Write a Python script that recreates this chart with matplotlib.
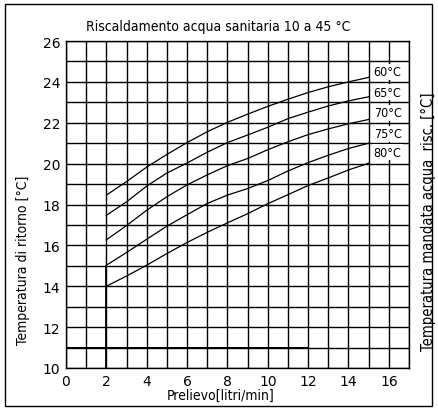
import matplotlib.pyplot as plt
from matplotlib.patches import Rectangle

# flow rate [l/min]
flow = [2, 3, 4, 5, 6, 7, 8, 9, 10, 11, 12, 13, 14, 15]

# return temperature per supply temperature
t60 = [18.46, 19.12, 19.83, 20.45, 21.03, 21.56, 22.02, 22.42, 22.8, 23.15, 23.48, 23.76, 24.0, 24.22]
t65 = [17.47, 18.13, 18.9, 19.54, 20.03, 20.56, 21.03, 21.4, 21.78, 22.2, 22.52, 22.82, 23.07, 23.27]
t70 = [16.27, 16.97, 17.72, 18.38, 18.96, 19.45, 19.9, 20.25, 20.68, 21.07, 21.42, 21.7, 21.95, 22.16]
t75 = [15.03, 15.65, 16.3, 16.94, 17.5, 18.05, 18.46, 18.78, 19.17, 19.64, 20.05, 20.41, 20.74, 21.0]
t80 = [14.0, 14.5, 15.03, 15.6, 16.14, 16.64, 17.1, 17.55, 18.04, 18.48, 18.93, 19.3, 19.69, 20.02]

series = [t60, t65, t70, t75, t80]
labels = ["60°C", "65°C", "70°C", "75°C", "80°C"]
label_y = [24.5, 23.5, 22.5, 21.45, 20.55]

W, H = 438, 410


def main():
    plt.rcParams["font.family"] = ["DejaVu Sans"]
    fig = plt.figure(figsize=(W / 100, H / 100), dpi=100)
    ax = fig.add_axes([66 / W, 1 - 369 / H, 343 / W, 327 / H])

    ax.set_xlim(0, 17)
    ax.set_ylim(10, 26)
    for x in range(0, 18):
        ax.axvline(x, color="black", lw=1.0, zorder=1)
    for y in range(10, 27):
        ax.axhline(y, color="black", lw=1.0, zorder=1)
    # heavier strokes in the original scan
    ax.plot([0, 12], [11, 11], color="black", lw=1.4, zorder=1)
    ax.plot([2, 2], [10, 15], color="black", lw=1.3, zorder=1)

    for s in series:
        ax.plot(flow, s, color="black", lw=0.9, zorder=2)

    for lab, y in zip(labels, label_y):
        ax.text(15.94, y, lab, ha="center", va="center", fontsize=9,
                fontstretch="condensed", zorder=3,
                bbox=dict(boxstyle="square,pad=0.12", fc="white", ec="none"))

    ax.set_xticks(range(0, 17, 2))
    ax.set_yticks(range(10, 27, 2))
    ax.tick_params(length=0, labelsize=10, pad=4)
    for sp in ax.spines.values():
        sp.set_linewidth(1.0)

    cond = dict(fontstretch="condensed", ha="center", va="center")
    fig.text(218 / W, 1 - 27 / H, "Riscaldamento acqua sanitaria 10 a 45 °C",
             fontsize=10, **cond)
    fig.text(221 / W, 1 - 396 / H, "Prelievo[litri/min]", fontsize=10, **cond)
    fig.text(23 / W, 1 - 260 / H, "Temperatura di ritorno [°C]", fontsize=10,
             rotation=90, **cond)
    fig.text(428 / W, 1 - 222 / H, "Temperatura mandata acqua  risc. [°C]",
             fontsize=10.5, rotation=90, **cond)

    fig.patches.append(Rectangle((5 / W, 3 / H), 427 / W, 402 / H,
                                 transform=fig.transFigure, fill=False,
                                 ec="black", lw=1.0))
    fig.savefig("out.png", dpi=100)


if __name__ == "__main__":
    main()
